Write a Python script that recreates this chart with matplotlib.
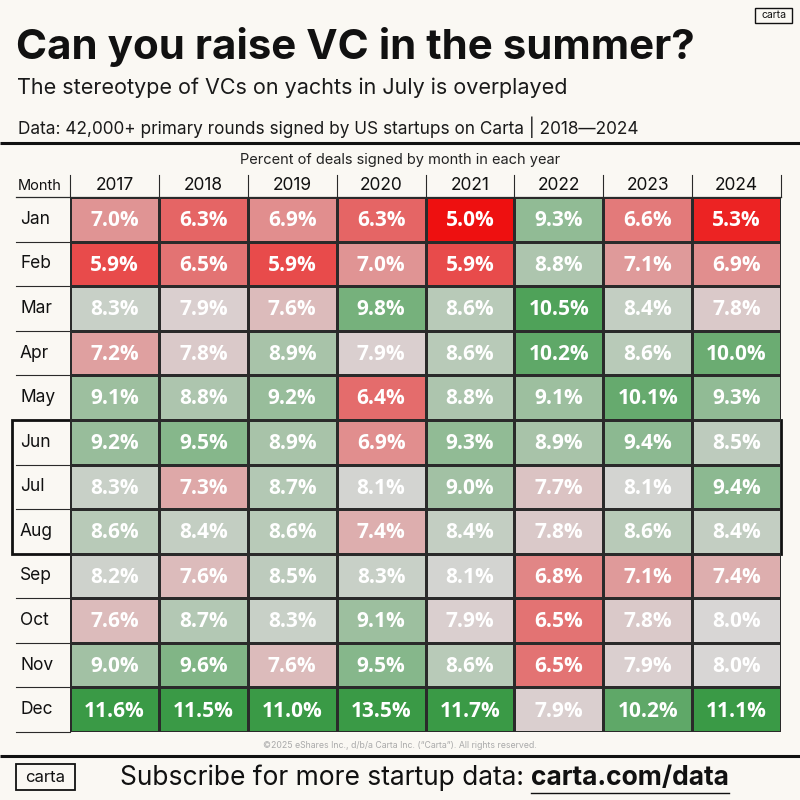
import numpy as np
import matplotlib
matplotlib.use("Agg")
import matplotlib.pyplot as plt
from matplotlib.colors import LinearSegmentedColormap, TwoSlopeNorm
from matplotlib.patches import Rectangle

# ---------------- data ----------------
years = ["2017", "2018", "2019", "2020", "2021", "2022", "2023", "2024"]
months = ["Jan", "Feb", "Mar", "Apr", "May", "Jun", "Jul", "Aug", "Sep", "Oct", "Nov", "Dec"]
v2017 = [7.0, 5.9, 8.3, 7.2, 9.1, 9.2, 8.3, 8.6, 8.2, 7.6, 9.0, 11.6]
v2018 = [6.3, 6.5, 7.9, 7.8, 8.8, 9.5, 7.3, 8.4, 7.6, 8.7, 9.6, 11.5]
v2019 = [6.9, 5.9, 7.6, 8.9, 9.2, 8.9, 8.7, 8.6, 8.5, 8.3, 7.6, 11.0]
v2020 = [6.3, 7.0, 9.8, 7.9, 6.4, 6.9, 8.1, 7.4, 8.3, 9.1, 9.5, 13.5]
v2021 = [5.0, 5.9, 8.6, 8.6, 8.8, 9.3, 9.0, 8.4, 8.1, 7.9, 8.6, 11.7]
v2022 = [9.3, 8.8, 10.5, 10.2, 9.1, 8.9, 7.7, 7.8, 6.8, 6.5, 6.5, 7.9]
v2023 = [6.6, 7.1, 8.4, 8.6, 10.1, 9.4, 8.1, 8.6, 7.1, 7.8, 7.9, 10.2]
v2024 = [5.3, 6.9, 7.8, 10.0, 9.3, 8.5, 9.4, 8.4, 7.4, 8.0, 8.0, 11.1]
highlight_months = ["Jun", "Jul", "Aug"]

title = "Can you raise VC in the summer?"
subtitle = "The stereotype of VCs on yachts in July is overplayed"
source = "Data: 42,000+ primary rounds signed by US startups on Carta | 2018\u20142024"
caption = "Percent of deals signed by month in each year"
copyright_txt = "\u00a92025 eShares Inc., d/b/a Carta Inc. (\u201cCarta\u201d). All rights reserved."

values = np.array([v2017, v2018, v2019, v2020, v2021, v2022, v2023, v2024]).T  # rows=months

# ---------------- style ----------------
BG = "#faf8f3"
W, H = 800, 800
SANS = ["Inter", "DejaVu Sans"]
plt.rcParams["font.family"] = SANS

fig = plt.figure(figsize=(8, 8), dpi=100, facecolor=BG)

def fx(px):
    return px / W

def fy(py):
    return 1 - py / H

# Overlay axes in pixel coordinates
bg = fig.add_axes([0, 0, 1, 1], facecolor="none")
bg.set_xlim(0, W)
bg.set_ylim(H, 0)
bg.axis("off")

bg.text(16, 47, title, fontsize=30.3, fontweight="bold", color="#111111",
        va="center", ha="left", family=SANS)
bg.text(17, 88, subtitle, fontsize=15.5, color="#1a1a1a", va="center", ha="left",
        family=SANS)
bg.text(18, 127, source, fontsize=12.4, color="#1a1a1a", va="center", ha="left",
        family=SANS)
bg.plot([0, W], [143, 143], color="#111111", lw=2.2, solid_capstyle="butt")
bg.text(400, 160, caption, fontsize=10.5, color="#222222", va="center", ha="center",
        family=SANS)

# top right logo
bg.add_patch(Rectangle((755, 8), 37, 15, fill=False, ec="#111111", lw=1.0))
bg.text(773.5, 15.5, "carta", fontsize=7.5, ha="center", va="center", color="#111111",
        family=SANS)

# footer
bg.text(400, 746, copyright_txt, fontsize=6.3, color="#aaaaaa", ha="center", va="center",
        family=SANS)
bg.plot([0, W], [756, 756], color="#111111", lw=2.2, solid_capstyle="butt")
bg.add_patch(Rectangle((16, 764), 59, 26, fill=False, ec="#111111", lw=1.3))
bg.text(45.5, 777, "carta", fontsize=12, ha="center", va="center", color="#111111",
        family=SANS)
t1 = bg.text(120, 778, "Subscribe for more startup data: ", fontsize=19, ha="left",
             va="center", color="#111111", family=SANS)
fig.canvas.draw()
bb = t1.get_window_extent(renderer=fig.canvas.get_renderer())
t2 = bg.text(bb.x1, 778, "carta.com/data", fontsize=19, fontweight="bold", ha="left",
             va="center", color="#111111", family=SANS)
fig.canvas.draw()
bb2 = t2.get_window_extent(renderer=fig.canvas.get_renderer())
bg.plot([bb2.x0, bb2.x1], [793, 793], color="#111111", lw=1.0)

# ---------------- heatmap ----------------
x0, x1 = 70, 781
y0, y1 = 197, 732
ax = fig.add_axes([fx(x0), fy(y1), fx(x1 - x0), (y1 - y0) / H])
ax.set_facecolor(BG)

cmap = LinearSegmentedColormap.from_list(
    "rg", [(0.0, "#ee1010"), (0.5, "#d9d6d6"), (1.0, "#3a9a46")])
norm = TwoSlopeNorm(vmin=5.0, vcenter=8.0, vmax=10.9)
clipped = np.clip(values, 5.0, 10.9)
ax.pcolormesh(np.arange(len(years) + 1), np.arange(len(months) + 1), clipped,
              cmap=cmap, norm=norm, edgecolors="#2a2a2a", linewidth=0.8)
ax.set_xlim(0, len(years))
ax.set_ylim(len(months), 0)
ax.axis("off")

for i, m in enumerate(months):
    for j, y in enumerate(years):
        ax.text(j + 0.5, i + 0.53, f"{values[i, j]:.1f}%", ha="center", va="center",
                color="white", fontsize=15, fontweight="bold",
                family=["Open Sans", "DejaVu Sans"])

# Month labels and row lines in the label column
row_h = (y1 - y0) / len(months)
col_w = (x1 - x0) / len(years)
for i, m in enumerate(months):
    yc = y0 + (i + 0.5) * row_h
    bg.text(20, yc, m, fontsize=12.5, ha="left", va="center", color="#111111",
            family=SANS)
    bg.plot([16, x0], [y0 + (i + 1) * row_h] * 2, color="#2a2a2a", lw=0.8)

# header row
bg.plot([16, x1], [y0, y0], color="#2a2a2a", lw=0.9)
bg.text(18, 186, "Month", fontsize=10.5, ha="left", va="center", color="#111111",
        family=SANS)
for j, yr in enumerate(years):
    bg.text(x0 + (j + 0.5) * col_w, 186, yr, fontsize=12.5, ha="center", va="center",
            color="#111111", family=SANS)
for j in range(len(years) + 1):
    xx = x0 + j * col_w
    bg.plot([xx, xx], [175, y0], color="#2a2a2a", lw=0.8)

# summer highlight box
r0 = months.index(highlight_months[0])
r1 = months.index(highlight_months[-1]) + 1
bg.add_patch(Rectangle((12, y0 + r0 * row_h), x1 - 12, (r1 - r0) * row_h,
                       fill=False, ec="#111111", lw=2.0, zorder=10))

fig.savefig("out.png", dpi=100, facecolor=BG)
